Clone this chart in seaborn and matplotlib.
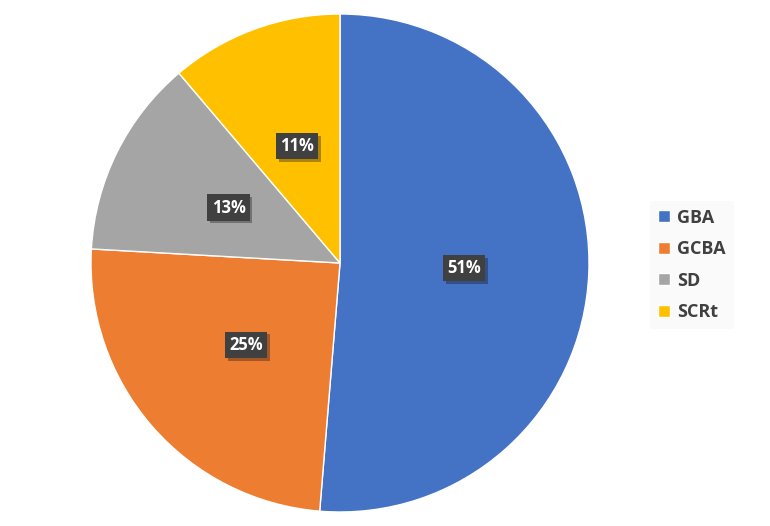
import matplotlib.pyplot as plt
import matplotlib.patheffects as pe
import seaborn as sns

# données
categories = ["GBA", "GCBA", "SD", "SCRt"]
shares = [51.3, 24.6, 12.9, 11.2]
colors = ["#4472C4", "#ED7D31", "#A5A5A5", "#FFC000"]

sns.set_theme(style="white")
plt.rcParams["font.family"] = ["Open Sans", "DejaVu Sans"]

fig = plt.figure(figsize=(7.7, 5.26), dpi=100)
fig.set_facecolor("white")
# pie centre ~ (340, 263), radius ~ 249 px
ax = fig.add_axes([(340 - 249) / 770, 1 - (263 + 249) / 526, 498 / 770, 498 / 526])

wedges, texts, autotexts = ax.pie(
    shares,
    colors=colors,
    startangle=90,
    counterclock=False,
    autopct=lambda p: f"{p:.0f}%",
    pctdistance=0.5,
    wedgeprops=dict(edgecolor="white", linewidth=1),
)
ax.set_xlim(-1, 1)
ax.set_ylim(-1, 1)
ax.set_aspect("equal")

for t in autotexts:
    t.set_color("white")
    t.set_fontsize(12)
    t.set_fontweight("bold")
    t.set_bbox(dict(boxstyle="square,pad=0.25", facecolor="#404040", edgecolor="none",
                    path_effects=[pe.withSimplePatchShadow(offset=(2, -2), alpha=0.35)]))

leg = fig.legend(
    wedges, categories,
    loc="center left",
    bbox_to_anchor=(650 / 770, 1 - 265 / 526),
    frameon=True,
    fontsize=13,
    handlelength=0.65,
    handleheight=0.65,
    handletextpad=0.4,
    labelspacing=0.75,
    borderpad=0.45,
    borderaxespad=0,
)
leg.get_frame().set_facecolor("#f9f9f9")
leg.get_frame().set_edgecolor("none")
for t in leg.get_texts():
    t.set_color("#404040")
    t.set_fontweight("bold")

fig.savefig("out.png", dpi=100, facecolor="white")
